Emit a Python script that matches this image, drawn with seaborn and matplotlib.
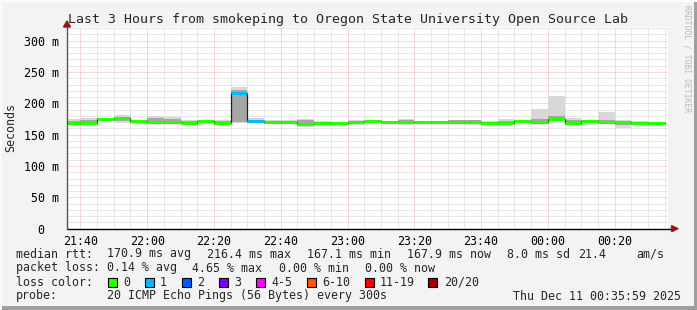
import numpy as np
import pandas as pd
import matplotlib
matplotlib.use("Agg")
import matplotlib.pyplot as plt
from matplotlib.patches import Rectangle, Polygon
import seaborn as sns

# ---------------- data ----------------
title = "Last 3 Hours from smokeping to Oregon State University Open Source Lab"
# 5-minute steps, start minute after 21:00 (21:35 ... 00:30)
step_start = list(range(35, 215, 5))
median_ms = [169.2, 169.2, 175.5, 176.5, 171.3, 170.3, 170.3, 168.2, 171.3, 169.2, 217.0, 171.3,
             169.5, 169.8, 167.6, 168.5, 168.5, 170.8, 171.8, 169.8, 169.8, 170.3, 170.3, 170.3,
             169.7, 169.0, 169.0, 171.8, 170.3, 175.5, 169.0, 172.4, 170.3, 170.3, 168.0, 168.0]
smoke_lo = [166, 167, 173, 168, 167, 168, 169, 165, 167, 168, 169, 169,
            167, 168, 163, 166, 167, 166, 168, 168, 166, 168, 169, 168,
            165, 167, 167, 170, 167, 168, 167, 166, 167, 161, 165, 166]
smoke_hi = [175, 177, 177, 182, 173, 180, 178, 173, 173, 173, 226, 176,
            174, 174, 175, 172, 171, 174, 173, 172, 175, 172, 172, 174,
            174, 172, 175, 173, 191, 212, 176, 174, 186, 174, 172, 171]
inner_lo = [168, 168, 174, 172, 168, 169, 169, 167, 169, 169, 170, 170,
            168, 169, 166, 167, 168, 167, 170, 169, 168, 169, 169, 169,
            168, 168, 168, 171, 168, 172, 168, 168, 168, 165, 166, 167]
inner_hi = [172, 174, 177, 179, 172, 176, 175, 172, 172, 172, 221, 174,
            172, 172, 173, 170, 170, 172, 172, 171, 173, 171, 171, 173,
            173, 171, 172, 173, 175, 180, 174, 173, 174, 172, 170, 170]
lost_pings = [0] * 10 + [1, 1] + [0] * 24

y_ticks = [0, 50, 100, 150, 200, 250, 300]
y_ticklabels = ["0  ", "50 m", "100 m", "150 m", "200 m", "250 m", "300 m"]
x_ticks = [40, 60, 80, 100, 120, 140, 160, 180, 200]
x_ticklabels = ["21:40", "22:00", "22:20", "22:40", "23:00", "23:20", "23:40", "00:00", "00:20"]

loss_labels = ["0", "1", "2", "3", "4-5", "6-10", "11-19", "20/20"]
loss_colors = ["#26ff00", "#00b8ff", "#0059ff", "#7e00ff", "#ff00ff", "#ff5500", "#ff0000", "#a10000"]

stats_rtt = ["170.9 ms avg", "216.4 ms max", "167.1 ms min", "167.9 ms now", "8.0 ms sd", "21.4", "am/s"]
stats_loss = ["0.14 % avg", "4.65 % max", "0.00 % min", "0.00 % now"]
probe_text = "20 ICMP Echo Pings (56 Bytes) every 300s"
stamp = "Thu Dec 11 00:35:59 2025"

# ---------------- style ----------------
sns.set_theme(style="white")
MONO = ["DejaVu Sans Mono"]
plt.rcParams["font.family"] = MONO
FS = 8.4

W, H = 697, 310
fig = plt.figure(figsize=(W / 100, H / 100), dpi=100, facecolor="#f3f3f3")

def fx(px):
    return px / W

def fy(py):
    return 1 - py / H

x0, x1 = 67, 668
y0, y1 = 228.7, 27
ax = fig.add_axes([fx(x0), fy(y0), (x1 - x0) / W, (y0 - y1) / H])
ax.set_facecolor("white")
ax.set_xlim(35.983, 215.983)
ax.set_ylim(0, 321.8)

df = pd.DataFrame({"t": step_start, "median": median_ms, "lo": smoke_lo, "hi": smoke_hi,
                   "ilo": inner_lo, "ihi": inner_hi, "loss": lost_pings})

# grid (dotted)
gkw = dict(lw=0.72, ls=(0, (1, 1)))
for v in np.arange(10, 330, 10):
    if v % 50:
        ax.axhline(v, color="#d2d2d2", zorder=0, **gkw)
for v in np.arange(40, 216, 5):
    if v % 20:
        ax.axvline(v, color="#d2d2d2", zorder=0, **gkw)
for v in y_ticks[1:]:
    ax.axhline(v, color="#f2b0b0", zorder=0.5, **gkw)
for v in x_ticks:
    ax.axvline(v, color="#f2b0b0", zorder=0.5, **gkw)

# smoke
ax.bar(df["t"], df["hi"] - df["lo"], bottom=df["lo"], width=5, align="edge",
       color="#d8d8d8", linewidth=0, zorder=1)
ax.bar(df["t"], df["ihi"] - df["ilo"], bottom=df["ilo"], width=5, align="edge",
       color="#a6a6a6", linewidth=0, zorder=1.2)

# median step outline
line_df = pd.concat([df[["t", "median"]],
                     pd.DataFrame({"t": [df["t"].iloc[-1] + 5], "median": [df["median"].iloc[-1]]})])
sns.lineplot(data=line_df, x="t", y="median", drawstyle="steps-post", color="#202020",
             lw=0.9, ax=ax, zorder=2)
# coloured median by loss
for _, r in df.iterrows():
    ax.hlines(r["median"], r["t"], r["t"] + 5, color=loss_colors[int(r["loss"])],
              lw=2.2, zorder=3)

ax.set_xlabel("")
ax.set_ylabel("")
for s in ax.spines.values():
    s.set_visible(False)

ax.set_yticks(y_ticks)
ax.set_yticklabels(y_ticklabels, fontsize=FS, family=MONO)
ax.set_xticks(x_ticks)
ax.set_xticklabels(x_ticklabels, fontsize=FS, family=MONO)
ax.tick_params(axis="both", which="major", direction="out", length=2, width=0.7,
               color="#e07070", pad=2.5, labelcolor="black")
ax.tick_params(axis="y", pad=3.5)
ax.set_xticks(np.arange(40, 216, 5), minor=True)
ax.set_yticks(np.arange(10, 330, 10), minor=True)
ax.tick_params(axis="both", which="minor", direction="out", length=1.4, width=0.7, color="#999999")

# axes lines with arrows
ax.plot([0, 1.006], [0, 0], transform=ax.transAxes, color="black", lw=1, clip_on=False, zorder=5)
ax.plot([0, 0], [0, 1.0], transform=ax.transAxes, color="#555555", lw=1, clip_on=False, zorder=5)
aw, ah = 4 / (x1 - x0), 3 / (y0 - y1)
ax.add_patch(Polygon([[1.006, -ah], [1.006, ah], [1.006 + aw * 1.6, 0]], closed=True,
                     transform=ax.transAxes, color="#8b1a1a", clip_on=False, zorder=6))
bw, bh = 3.5 / (x1 - x0), 4 / (y0 - y1)
ax.add_patch(Polygon([[-bw, 1.0], [bw, 1.0], [0, 1.0 + bh * 1.5]], closed=True,
                     transform=ax.transAxes, color="#8b1a1a", clip_on=False, zorder=6))

# title and labels
fig.text(fx(348), fy(19), title, ha="center", va="center", fontsize=9.5, family=MONO)
fig.text(fx(11), fy(127), "Seconds", rotation=90, ha="center", va="center", fontsize=FS, family=MONO)
fig.text(fx(687), fy(5), "RRDTOOL / TOBI OETIKER", rotation=270, ha="center", va="top",
         fontsize=5.8, family=MONO, color="#b8b8b8")

# legend rows
rows_y = [254, 268, 282, 296]
fig.text(fx(16), fy(rows_y[0]), "median rtt:", va="center", fontsize=FS, family=MONO)
for txt, px in zip(stats_rtt, [107, 207, 307, 407, 507, 578, 636]):
    fig.text(fx(px), fy(rows_y[0]), txt, va="center", fontsize=FS, family=MONO)
fig.text(fx(16), fy(rows_y[1]), "packet loss:", va="center", fontsize=FS, family=MONO)
for txt, px in zip(stats_loss, [107, 192, 279, 365]):
    fig.text(fx(px), fy(rows_y[1]), txt, va="center", fontsize=FS, family=MONO)
fig.text(fx(16), fy(rows_y[2]), "loss color:", va="center", fontsize=FS, family=MONO)
for lab, col, sx, lx in zip(loss_labels, loss_colors,
                            [108, 145, 182, 219, 256, 307, 365, 428],
                            [123, 160, 197, 234, 271, 322, 380, 444]):
    fig.patches.append(Rectangle((fx(sx), fy(rows_y[2] + 4.5)), 9 / W, 9 / H,
                                 transform=fig.transFigure, facecolor=col,
                                 edgecolor="black", lw=0.8))
    fig.text(fx(lx), fy(rows_y[2]), lab, va="center", fontsize=FS, family=MONO)
fig.text(fx(16), fy(rows_y[3]), "probe:", va="center", fontsize=FS, family=MONO)
fig.text(fx(107), fy(rows_y[3]), probe_text, va="center", fontsize=FS, family=MONO)
fig.text(fx(681), fy(rows_y[3]), stamp, ha="right", va="center", fontsize=FS, family=MONO)

# frame
fig.patches.append(Rectangle((0, 0), 1, 4 / H, transform=fig.transFigure, facecolor="#9e9e9e", lw=0))
fig.patches.append(Rectangle((1 - 3 / W, 0), 3 / W, 1, transform=fig.transFigure, facecolor="#9e9e9e", lw=0))
fig.patches.append(Rectangle((0, 1 - 2 / H), 1, 2 / H, transform=fig.transFigure, facecolor="#fcfcfc", lw=0))
fig.patches.append(Rectangle((0, 0), 2 / W, 1, transform=fig.transFigure, facecolor="#fcfcfc", lw=0))

fig.savefig("out.png", dpi=100, facecolor=fig.get_facecolor())
